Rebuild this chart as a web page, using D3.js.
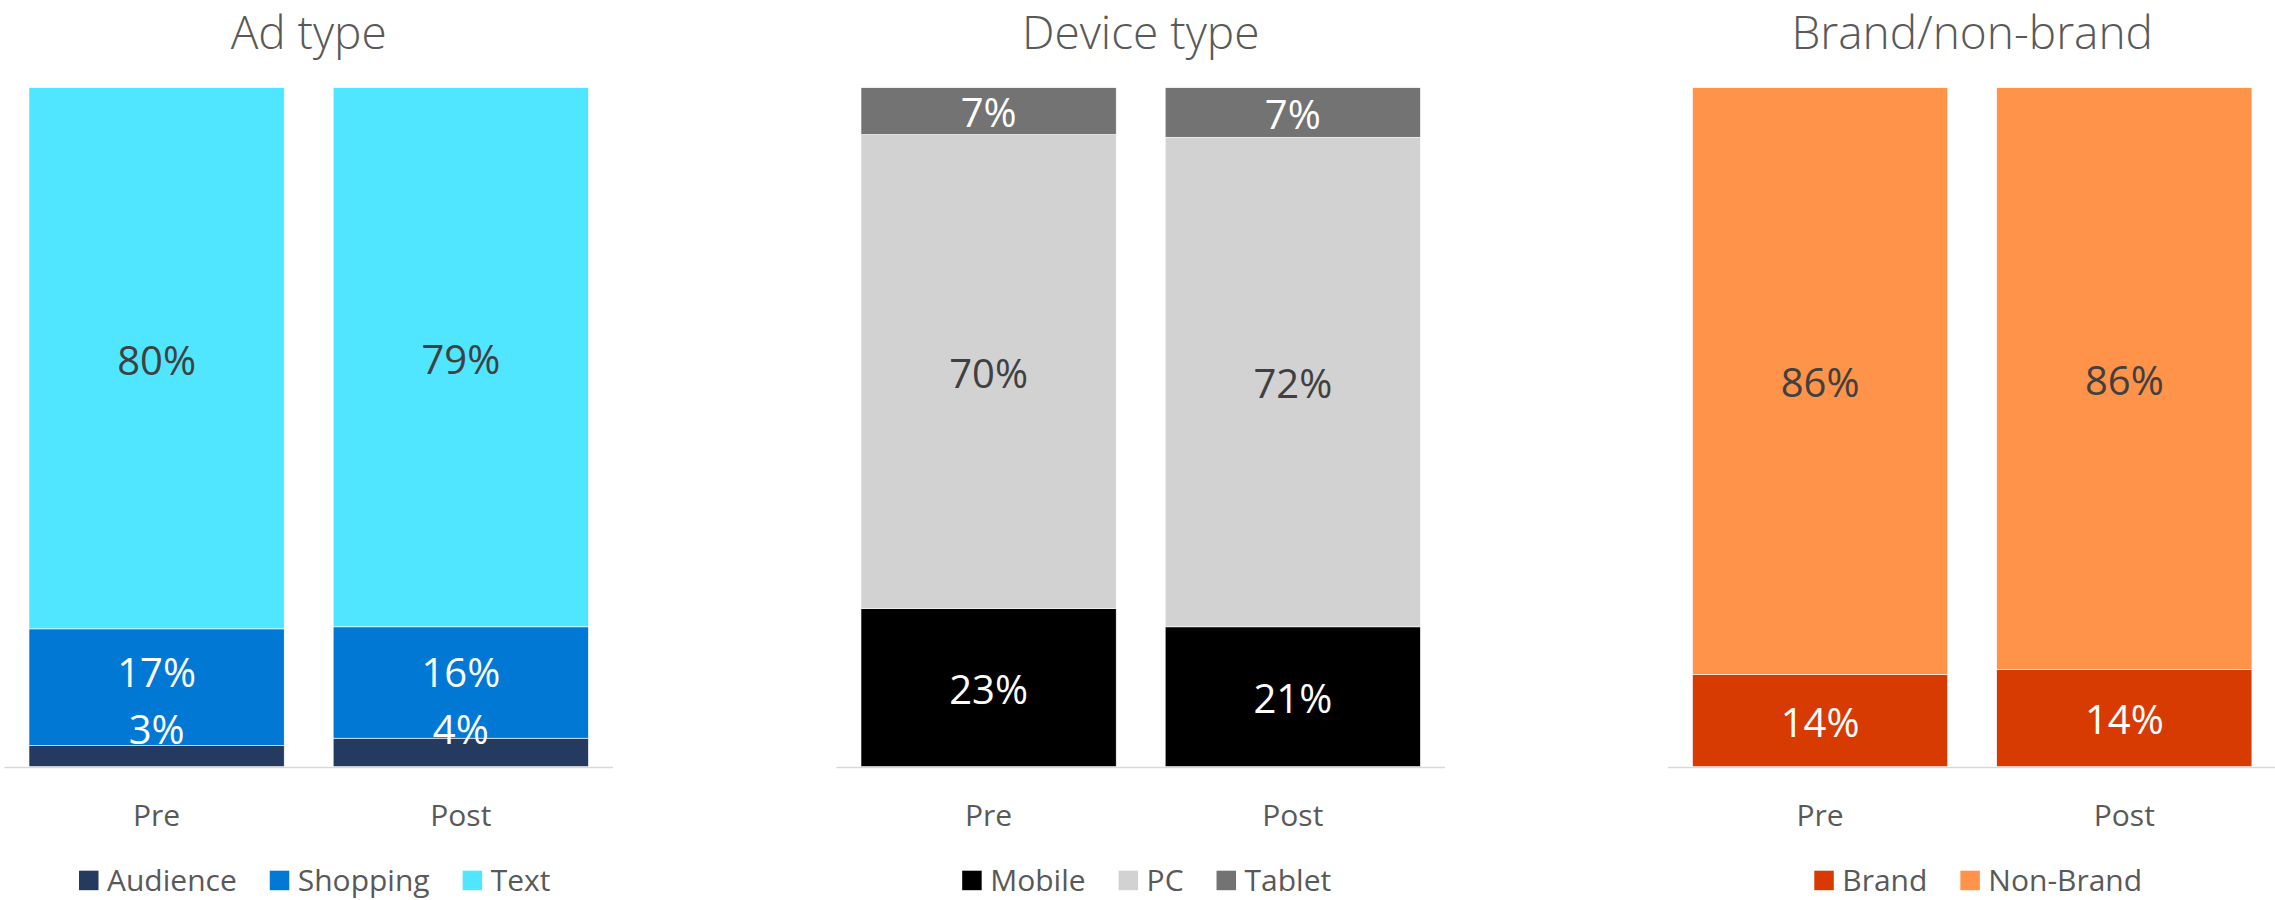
<!DOCTYPE html>
<html>
<head>
<meta charset="utf-8">
<script src="https://cdn.jsdelivr.net/npm/d3@7"></script>
<style>
  html, body { margin: 0; padding: 0; background: #fff; }
  svg { display: block; font-family: "Segoe UI", "Open Sans", sans-serif; font-weight: 400; }
</style>
</head>
<body>
<svg id="chart" width="2275" height="900"></svg>
<script>
// ---- data ----
const categories = ["Pre", "Post"];

const adTypeTitle = "Ad type";
const adTypeSeries = ["Audience", "Shopping", "Text"];
const adAudience = [3.1, 4.2];
const adShopping = [17.2, 16.4];
const adText = [79.7, 79.4];

const deviceTitle = "Device type";
const deviceSeries = ["Mobile", "PC", "Tablet"];
const deviceMobile = [23.3, 20.6];
const devicePC = [69.8, 72.1];
const deviceTablet = [6.9, 7.3];

const brandTitle = "Brand/non-brand";
const brandSeries = ["Brand", "Non-Brand"];
const brandBrand = [13.6, 14.3];
const brandNonBrand = [86.4, 85.7];

// ---- styles ----
const panels = [
  { title: adTypeTitle, names: adTypeSeries, values: [adAudience, adShopping, adText],
    colors: ["#243a5e", "#0078d4", "#50e6ff"], labelColors: ["#ffffff", "#ffffff", "#404040"], x0: 4.5 },
  { title: deviceTitle, names: deviceSeries, values: [deviceMobile, devicePC, deviceTablet],
    colors: ["#000000", "#d2d2d2", "#737373"], labelColors: ["#ffffff", "#404040", "#ffffff"], x0: 836.5 },
  { title: brandTitle, names: brandSeries, values: [brandBrand, brandNonBrand],
    colors: ["#d83b01", "#ff9349"], labelColors: ["#ffffff", "#404040"], x0: 1668 }
];

const plotW = 608.4, plotTop = 87.7, plotBottom = 766.7;
const svg = d3.select("#chart");

const y = d3.scaleLinear().domain([0, 100]).range([plotBottom, plotTop]);

panels.forEach(p => {
  const g = svg.append("g");
  const x = d3.scaleBand().domain(categories)
    .range([p.x0, p.x0 + plotW]).paddingInner(0.161).paddingOuter(0.0805);
  const cx = p.x0 + plotW / 2;

  // title
  g.append("text").attr("x", cx).attr("y", 49)
    .attr("text-anchor", "middle").attr("font-size", 46).attr("font-weight", 300)
    .attr("fill", "#595959")
    .text(p.title);

  // stack
  const rows = categories.map((c, i) => {
    const r = { cat: c };
    p.names.forEach((n, k) => r[n] = p.values[k][i]);
    return r;
  });
  const stack = d3.stack().keys(p.names)(rows);

  stack.forEach((layer, k) => {
    g.append("g").selectAll("rect").data(layer).join("rect")
      .attr("x", d => x(d.data.cat))
      .attr("width", x.bandwidth())
      .attr("y", d => y(d[1]))
      .attr("height", d => y(d[0]) - y(d[1]))
      .attr("fill", p.colors[k])
      .attr("stroke", "#ffffff").attr("stroke-width", 0.6);
  });

  // labels, bottom to top with clamping / collision
  const fs = 40;
  categories.forEach((c, i) => {
    let prev = null;
    stack.forEach((layer, k) => {
      const d = layer[i];
      let cy = (y(d[0]) + y(d[1])) / 2;
      cy = Math.min(cy, plotBottom - 39);
      if (prev !== null) cy = Math.min(cy, prev - 57);
      prev = cy;
      g.append("text")
        .attr("x", x(c) + x.bandwidth() / 2)
        .attr("y", cy + 0.357 * fs + 2)
        .attr("text-anchor", "middle")
        .attr("font-size", fs)
        .attr("fill", p.labelColors[k])
        .text(Math.round(d[1] - d[0]) + "%");
    });
  });

  // axis
  const axis = g.append("g").attr("transform", `translate(0,${plotBottom})`)
    .call(d3.axisBottom(x).tickSize(0).tickPadding(0))
    .attr("font-family", null).attr("font-size", null);
  axis.select(".domain").attr("stroke", "#d9d9d9").attr("stroke-width", 1.6)
    .attr("d", `M${p.x0},0.8H${p.x0 + plotW}`);
  axis.selectAll(".tick text").attr("y", 59).attr("dy", null)
    .attr("font-size", 30).attr("fill", "#595959");

  // legend
  const lg = g.append("g");
  const items = lg.selectAll("g").data(p.names).join("g");
  items.append("rect").attr("width", 19.5).attr("height", 19.5)
    .attr("y", 870.7).attr("fill", (d, k) => p.colors[k]);
  items.append("text").attr("x", 28).attr("y", 890.5)
    .attr("font-size", 30).attr("fill", "#595959").text(d => d);
  let off = 0;
  items.each(function () {
    const t = d3.select(this).select("text").node().getComputedTextLength();
    d3.select(this).attr("transform", `translate(${off},0)`);
    off += 28 + t + 33;
  });
  const total = off - 33;
  lg.attr("transform", `translate(${cx + 6 - total / 2},0)`);
});
</script>
</body>
</html>
